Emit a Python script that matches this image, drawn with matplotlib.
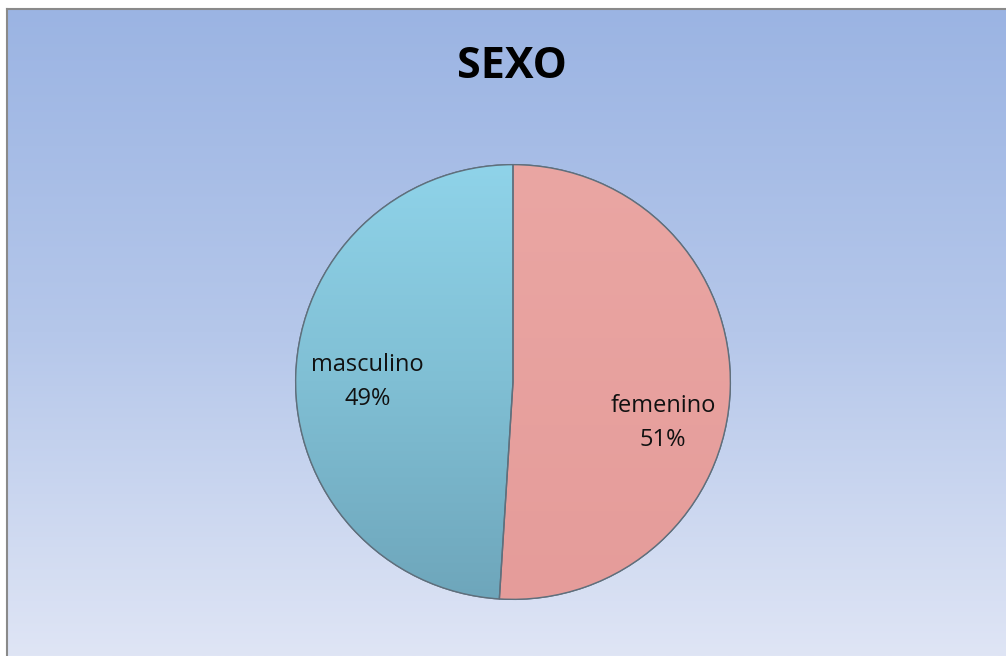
import numpy as np
import matplotlib
matplotlib.use("Agg")
import matplotlib.pyplot as plt
from matplotlib.colors import LinearSegmentedColormap
from matplotlib.patches import Wedge

# Data
categories = ["femenino", "masculino"]
values = [51, 49]
title = "SEXO"

W, H = 1006, 656
fig = plt.figure(figsize=(W / 100, H / 100), dpi=100)
fig.patch.set_facecolor("white")

# Background chart area with gradient
x0, y0 = 7, 9
bg = fig.add_axes([x0 / W, 0, (W - x0) / W, (H - y0) / H])
bg_cmap = LinearSegmentedColormap.from_list("bg", ["#9bb4e3", "#b5c7ea", "#dfe5f5"])
grad = np.linspace(0, 1, 256).reshape(-1, 1)
bg.imshow(grad, aspect="auto", cmap=bg_cmap, extent=[0, 1, 0, 1], origin="upper")
bg.set_xlim(0, 1)
bg.set_ylim(0, 1)
bg.set_xticks([])
bg.set_yticks([])
for name, s in bg.spines.items():
    if name in ("right", "bottom"):
        s.set_visible(False)
    else:
        s.set_color("#8a8a8a")
        s.set_linewidth(1.5)

fig.text(512 / W, 1 - 67 / H, title, ha="center", va="center",
         fontsize=31, fontweight="bold", family=["Open Sans", "DejaVu Sans"], color="black")

# Pie
cx, cy, r = 513, 382, 218
ax = fig.add_axes([(cx - r) / W, (H - cy - r) / H, 2 * r / W, 2 * r / H])
ax.set_facecolor("none")
colors = ["#e8a19f", "#86c6dc"]
wedges, _ = ax.pie(values, colors=colors, startangle=90, counterclock=False,
                   wedgeprops=dict(edgecolor="#5f6f7c", linewidth=1.0))
ax.set_aspect("equal")
ax.axis("off")

# Gradient shading inside wedges
grad_maps = [
    LinearSegmentedColormap.from_list("f", ["#eaa6a3", "#e59c9a"]),
    LinearSegmentedColormap.from_list("m", ["#8fd3e9", "#80bfd4", "#6ea6bb"]),
]
for w, cm in zip(wedges, grad_maps):
    im = ax.imshow(grad, aspect="auto", cmap=cm, extent=[-1, 1, -1, 1],
                   origin="upper", zorder=w.get_zorder() + 0.1)
    im.set_clip_path(w)
    outline = Wedge(w.center, w.r, w.theta1, w.theta2, facecolor="none",
                    edgecolor="#5f6f7c", linewidth=1.0, zorder=w.get_zorder() + 0.2)
    ax.add_patch(outline)
ax.set_xlim(-1.003, 1.003)
ax.set_ylim(-1.003, 1.003)

lab_font = dict(fontsize=17, family=["Open Sans", "DejaVu Sans"], color="#111111",
                ha="center", va="center", linespacing=1.55)
ax.text(0.69, -0.19, f"{categories[0]}\n{values[0]}%", **lab_font)
ax.text(-0.67, 0.0, f"{categories[1]}\n{values[1]}%", **lab_font)

fig.savefig("out.png", dpi=100)
